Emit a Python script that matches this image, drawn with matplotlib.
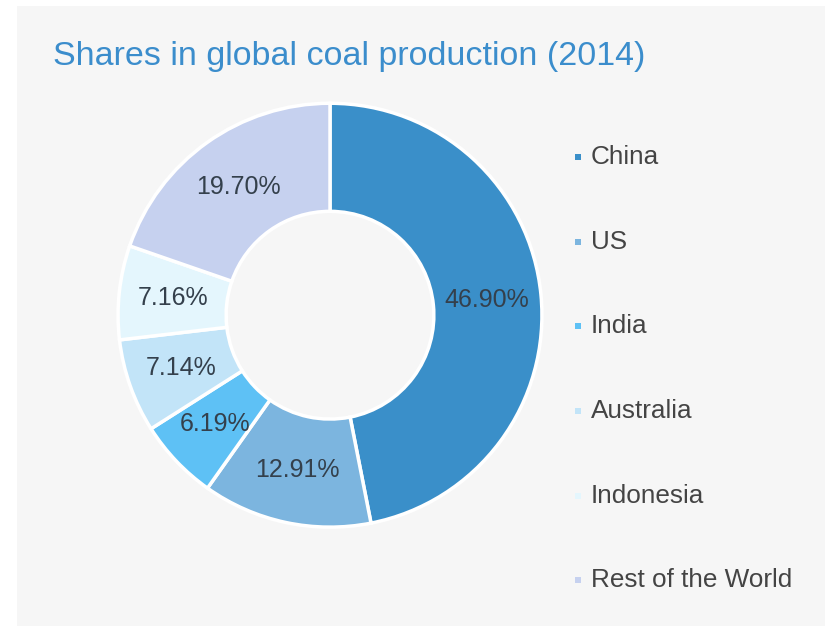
import numpy as np
import matplotlib.pyplot as plt

countries = ["China", "US", "India", "Australia", "Indonesia", "Rest of the World"]
shares = [46.90, 12.91, 6.19, 7.14, 7.16, 19.70]
colors = ["#3a8fc9", "#7cb5df", "#5ec1f5", "#c2e4f8", "#e4f6fd", "#c6d1ef"]

plt.rcParams["font.family"] = ["Liberation Sans", "DejaVu Sans"]

fig = plt.figure(figsize=(8.25, 6.26), dpi=100)
fig.patch.set_facecolor("white")

# light grey panel behind everything
panel = fig.add_axes([17 / 825, 0, 1 - 17 / 825, 1 - 6 / 626])
panel.set_facecolor("#f6f6f6")
panel.set_xticks([])
panel.set_yticks([])
for s in panel.spines.values():
    s.set_visible(False)

fig.text(53 / 825, 1 - 56 / 626, "Shares in global coal production (2014)",
         fontsize=24.5, color="#3b8dcc", va="center", ha="left")

ax = fig.add_axes([0.130, 0.141, 0.540, 0.711])
ax.set_facecolor("none")
wedges, _ = ax.pie(shares, colors=colors, startangle=90, counterclock=False,
                   radius=1.0,
                   wedgeprops=dict(width=0.51, edgecolor="white", linewidth=2.5))
ax.set_xlim(-1.05, 1.05)
ax.set_ylim(-1.05, 1.05)
ax.set_aspect("equal")
ax.axis("off")

# percentage labels in the middle of each ring segment
for w, val in zip(wedges, shares):
    mid = np.deg2rad((w.theta1 + w.theta2) / 2)
    r = 0.745
    ax.text(r * np.cos(mid), r * np.sin(mid), f"{val:.2f}%",
            ha="center", va="center", fontsize=18, color="#34404c")

# legend on the right
ys = [157, 242, 326, 411, 496, 580]
for name, col, y in zip(countries, colors, ys):
    fy = 1 - y / 626
    fig.patches.append(plt.Rectangle((575 / 825, fy - 3 / 626), 6 / 825, 6 / 626,
                                     transform=fig.transFigure, facecolor=col,
                                     edgecolor="none"))
    fig.text(591 / 825, fy, name, fontsize=18.8, color="#444444",
             ha="left", va="center")

fig.savefig("out.png", dpi=100)
